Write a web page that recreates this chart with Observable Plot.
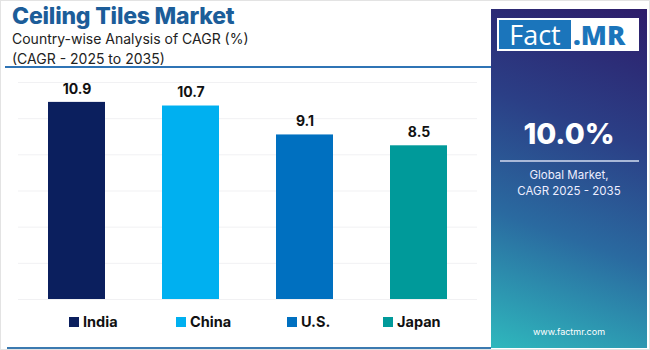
<!DOCTYPE html>
<html>
<head>
<meta charset="utf-8">
<script src="https://cdn.jsdelivr.net/npm/d3@7"></script>
<script src="https://cdn.jsdelivr.net/npm/@observablehq/plot@0.6"></script>
<style>
  html, body { margin: 0; padding: 0; background: #fff; }
  body { width: 650px; height: 350px; position: relative; overflow: hidden; font-family: Inter, "Open Sans", sans-serif; }
  #frame { position: absolute; left: 0; top: 0; width: 648px; height: 348px; border: 1px solid #e3e3e3; }
  #title { position: absolute; left: 12px; top: 2px; font-size: 23px; font-weight: 800; color: #1c5d99; letter-spacing: -0.2px; }
  #sub { position: absolute; left: 12px; top: 29px; font-size: 14px; line-height: 20px; color: #222; }
  #topline { position: absolute; left: 5px; top: 66px; width: 486px; height: 1.5px; background: #2f74b5; }
  #botline { position: absolute; left: 7px; top: 347px; width: 484px; height: 2px; background: #3b7ab0; }
  #chart { position: absolute; left: 0; top: 70px; }
  #legend { position: absolute; top: 313px; left: 0; width: 490px; height: 20px; }
  .li { position: absolute; top: 0; font-size: 14.5px; font-weight: 700; color: #111; display: flex; align-items: center; }
  .sw { width: 10px; height: 10px; margin-right: 4px; }
  #panel { position: absolute; left: 491px; top: 9px; width: 156px; height: 339px;
    background: linear-gradient(200deg, #2d1d6a 0%, #2b3f86 35%, #2a6aa0 65%, #2fb8bd 100%); }
  #logo { position: absolute; left: 6px; top: 9px; width: 142px; height: 33px; background: #fff; }
  #fact { position: absolute; left: 2px; top: 2px; width: 72px; height: 29px; background: #1b75bb; color: #fff; font-size: 27px; line-height: 29px; text-align: center; font-family: "Open Sans", sans-serif; }
  #mr { position: absolute; left: 76px; top: 2px; height: 29px; color: #1b75bb; font-size: 27px; line-height: 29px; font-weight: 800; font-family: "Open Sans", sans-serif; }
  #big { position: absolute; left: 0; width: 156px; top: 107px; text-align: center; color: #fff; font-size: 29px; font-weight: 800; }
  #sep { position: absolute; left: 9px; width: 139px; top: 151px; height: 2px; background: #a9b8d8; }
  #gm { position: absolute; left: 0; width: 156px; top: 158px; text-align: center; color: #eef; font-size: 11.5px; line-height: 16px; }
  #url { position: absolute; left: 0; width: 156px; top: 317px; text-align: center; color: #fff; font-size: 9px; }
</style>
</head>
<body>
<div id="frame"></div>
<div id="title">Ceiling Tiles Market</div>
<div id="sub">Country-wise Analysis of CAGR (%)<br>(CAGR - 2025 to 2035)</div>
<div id="topline"></div>
<div id="chart"></div>
<div id="legend"></div>
<div id="botline"></div>
<div id="panel">
  <div id="logo"><div id="fact">Fact</div><div id="mr">.MR</div></div>
  <div id="big">10.0%</div>
  <div id="sep"></div>
  <div id="gm">Global Market,<br>CAGR 2025 - 2035</div>
  <div id="url">www.factmr.com</div>
</div>
<script>
const countries = ["India", "China", "U.S.", "Japan"];
const cagr = [10.9, 10.7, 9.1, 8.5];
const colors = ["#0b1f5e", "#00b0f0", "#0070c0", "#009a9a"];
const gridTicks = [0, 2, 4, 6, 8, 10, 12];

const data = countries.map((c, i) => ({country: c, value: cagr[i]}));

const plot = Plot.plot({
  width: 490,
  height: 235,
  marginLeft: 18,
  marginRight: 13,
  marginTop: 12,
  marginBottom: 6,
  x: {domain: countries, paddingInner: 0.5, paddingOuter: 0.25, axis: null},
  y: {domain: [0, 12], axis: null},
  color: {domain: countries, range: colors},
  marks: [
    Plot.ruleY(gridTicks, {stroke: "#f1f1f3", strokeWidth: 1}),
    Plot.barY(data, {x: "country", y: "value", fill: "country"}),
    Plot.text(data, {x: "country", y: "value", text: d => d.value.toFixed(1), dy: -13,
      fontSize: 14, fontWeight: 700, fill: "#111", fontFamily: "Inter, sans-serif"})
  ]
});
document.getElementById("chart").appendChild(plot);

const legendX = [69, 176, 287, 383];
const legend = document.getElementById("legend");
countries.forEach((c, i) => {
  const el = document.createElement("div");
  el.className = "li";
  el.style.left = legendX[i] + "px";
  el.innerHTML = `<span class="sw" style="background:${colors[i]}"></span>${c}`;
  legend.appendChild(el);
});
</script>
</body>
</html>
